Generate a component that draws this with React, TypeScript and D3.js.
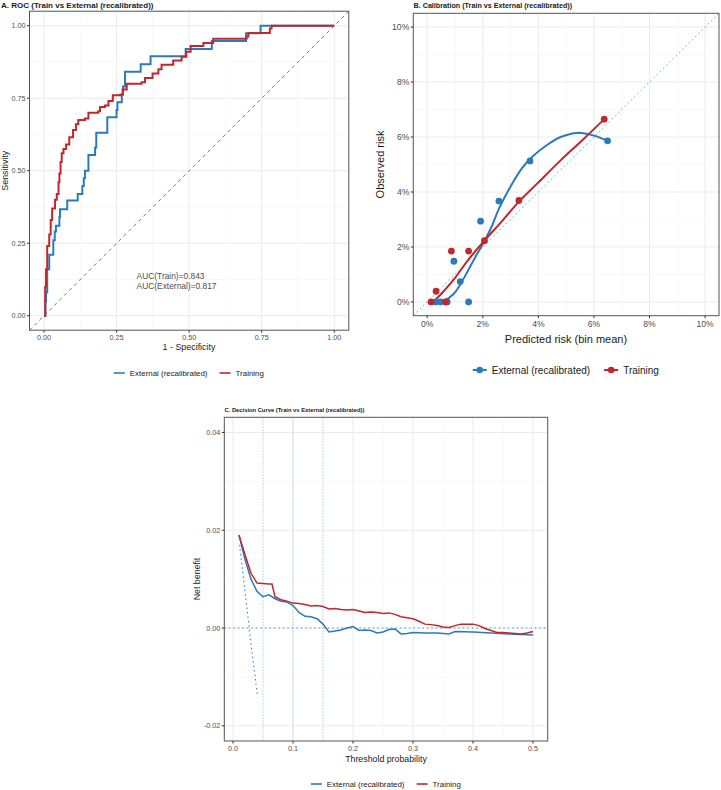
import React from 'react'
import * as d3 from 'd3'

const W = 721
const H = 790
const BLUE = '#2b7bba'
const RED = '#c1272d'
const FONT = '"Liberation Sans", Arial, sans-serif'

// ---- A. ROC ----
const rocTrainFpr = [0, 0.004, 0.007, 0.011, 0.018, 0.023, 0.028, 0.038, 0.044, 0.05, 0.053, 0.057, 0.061, 0.067, 0.076, 0.087, 0.1, 0.11, 0.118, 0.141, 0.153, 0.187, 0.193, 0.21, 0.222, 0.237, 0.262, 0.271, 0.285, 0.336, 0.348, 0.374, 0.394, 0.405, 0.445, 0.474, 0.49, 0.505, 0.549, 0.583, 0.698, 0.704, 0.773, 0.778, 0.784, 1]
const rocTrainTpr = [0, 0.1, 0.16, 0.24, 0.28, 0.33, 0.37, 0.4, 0.42, 0.46, 0.49, 0.53, 0.56, 0.575, 0.59, 0.615, 0.64, 0.66, 0.675, 0.68, 0.7, 0.705, 0.72, 0.725, 0.74, 0.76, 0.762, 0.78, 0.8, 0.805, 0.82, 0.835, 0.85, 0.865, 0.88, 0.893, 0.91, 0.93, 0.94, 0.955, 0.963, 0.975, 0.975, 0.99, 1, 1]
const rocExtFpr = [0, 0.005, 0.007, 0.011, 0.018, 0.032, 0.037, 0.041, 0.053, 0.055, 0.08, 0.116, 0.132, 0.137, 0.141, 0.153, 0.176, 0.18, 0.218, 0.25, 0.253, 0.268, 0.272, 0.279, 0.333, 0.367, 0.488, 0.578, 0.696, 0.746, 1]
const rocExtTpr = [0, 0.05, 0.08, 0.16, 0.21, 0.26, 0.29, 0.31, 0.34, 0.367, 0.397, 0.42, 0.447, 0.474, 0.5, 0.554, 0.58, 0.631, 0.684, 0.709, 0.736, 0.763, 0.79, 0.841, 0.867, 0.895, 0.92, 0.947, 0.974, 1, 1]
const rocTicks = [0, 0.25, 0.5, 0.75, 1]
const aucLabels = ['AUC(Train)=0.843', 'AUC(External)=0.817']

// ---- B. Calibration ----
const calExtPred = [0.003, 0.0048, 0.0072, 0.0096, 0.0119, 0.0149, 0.0192, 0.0258, 0.037, 0.0649]
const calExtObs = [0, 0, 0, 0.0148, 0.0074, 0, 0.0294, 0.0367, 0.0513, 0.0586]
const calTrainPred = [0.0014, 0.0032, 0.0066, 0.0087, 0.0149, 0.0206, 0.033, 0.0637]
const calTrainObs = [0, 0.0039, 0, 0.0185, 0.0185, 0.0223, 0.0369, 0.0665]
const fitExtX = [0.003, 0.006, 0.0096, 0.012, 0.015, 0.018, 0.02, 0.023, 0.026, 0.03, 0.034, 0.038, 0.043, 0.048, 0.054, 0.06, 0.0649]
const fitExtY = [0, 0.0005, 0.003, 0.0065, 0.012, 0.0175, 0.021, 0.027, 0.0343, 0.042, 0.0485, 0.053, 0.057, 0.06, 0.0615, 0.0605, 0.0586]
const fitTrainX = [0.0027, 0.006, 0.0096, 0.0149, 0.0206, 0.027, 0.033, 0.04, 0.048, 0.056, 0.0637]
const fitTrainY = [0.0005, 0.004, 0.0082, 0.0155, 0.0223, 0.0295, 0.0365, 0.0435, 0.0515, 0.059, 0.0665]
const calTicks = [0, 0.02, 0.04, 0.06, 0.08, 0.1]

// ---- C. Decision curve ----
const dcaTrainT = [0.01, 0.02, 0.03, 0.04, 0.05, 0.06, 0.065, 0.07, 0.08, 0.09, 0.1, 0.11, 0.12, 0.13, 0.14, 0.15, 0.16, 0.17, 0.18, 0.19, 0.2, 0.21, 0.22, 0.23, 0.24, 0.25, 0.26, 0.27, 0.28, 0.29, 0.3, 0.31, 0.32, 0.33, 0.34, 0.35, 0.36, 0.37, 0.38, 0.39, 0.4, 0.41, 0.42, 0.43, 0.44, 0.45, 0.46, 0.47, 0.48, 0.49, 0.5]
const dcaTrainNb = [0.019, 0.015, 0.0112, 0.0092, 0.0091, 0.009, 0.009, 0.0064, 0.0058, 0.0055, 0.0051, 0.005, 0.0048, 0.0045, 0.0046, 0.0044, 0.0039, 0.004, 0.0038, 0.0037, 0.0038, 0.0035, 0.0032, 0.0033, 0.0032, 0.003, 0.0031, 0.0028, 0.0023, 0.0021, 0.0019, 0.0014, 0.0008, 0.0007, 0.0005, 0.0002, 0.0001, 0.0005, 0.0008, 0.0008, 0.0008, 0.0005, -0.0001, -0.0005, -0.0009, -0.0009, -0.001, -0.0011, -0.0012, -0.001, -0.0007]
const dcaExtT = [0.01, 0.02, 0.03, 0.04, 0.05, 0.06, 0.07, 0.08, 0.09, 0.1, 0.11, 0.12, 0.13, 0.14, 0.15, 0.16, 0.17, 0.18, 0.19, 0.2, 0.21, 0.22, 0.23, 0.24, 0.25, 0.26, 0.27, 0.28, 0.29, 0.3, 0.32, 0.34, 0.36, 0.37, 0.4, 0.43, 0.46, 0.5]
const dcaExtNb = [0.019, 0.014, 0.01, 0.0075, 0.0064, 0.0068, 0.006, 0.0055, 0.0053, 0.0046, 0.0032, 0.0024, 0.0023, 0.0019, 0.0008, -0.0008, -0.0006, -0.0004, 0, 0.0003, -0.0005, -0.0004, -0.0005, -0.001, -0.0008, -0.0003, -0.0002, -0.0012, -0.0011, -0.0009, -0.001, -0.001, -0.0012, -0.0007, -0.0008, -0.001, -0.0012, -0.0014]
const treatAllT = [0.011, 0.02, 0.03, 0.041]
const treatAllNb = [0.017, 0.0076, -0.0032, -0.0141]
const refThresholds = [0.05, 0.1, 0.15]
const dcaXTicks = [0, 0.1, 0.2, 0.3, 0.4, 0.5]
const dcaYTicks = [-0.02, 0, 0.02, 0.04]

const seriesNames = ['External (recalibrated)', 'Training']

type Scale = d3.ScaleLinear<number, number>
type Fmt = (v: number) => string

// ggplot-style number labels with an ASCII hyphen for negatives
const plain = (spec: string): Fmt => (v) => d3.format(spec)(v).replace('\u2212', '-')

function Grid({ x, y, xMajor, yMajor, xMinor, yMinor }: { x: Scale; y: Scale; xMajor: number[]; yMajor: number[]; xMinor: number[]; yMinor: number[] }) {
  const [x0, x1] = x.range()
  const [y0, y1] = y.range()
  return (
    <g>
      {xMinor.map((v, i) => <line key={'xm' + i} x1={x(v)} x2={x(v)} y1={y0} y2={y1} stroke="#f4f4f4" strokeWidth={0.6} />)}
      {yMinor.map((v, i) => <line key={'ym' + i} y1={y(v)} y2={y(v)} x1={x0} x2={x1} stroke="#f4f4f4" strokeWidth={0.6} />)}
      {xMajor.map((v, i) => <line key={'xM' + i} x1={x(v)} x2={x(v)} y1={y0} y2={y1} stroke="#ebebeb" strokeWidth={1} />)}
      {yMajor.map((v, i) => <line key={'yM' + i} y1={y(v)} y2={y(v)} x1={x0} x2={x1} stroke="#ebebeb" strokeWidth={1} />)}
    </g>
  )
}

function Axes({ x, y, xTicks, yTicks, fx, fy, size }: { x: Scale; y: Scale; xTicks: number[]; yTicks: number[]; fx: Fmt; fy: Fmt; size: number }) {
  const [x0, x1] = x.range()
  const [y0, y1] = y.range()
  return (
    <g fontFamily={FONT} fontSize={size} fill="#4d4d4d">
      <rect x={x0} y={y1} width={x1 - x0} height={y0 - y1} fill="none" stroke="#555" strokeWidth={1} />
      {xTicks.map((v, i) => (
        <g key={'x' + i}>
          <line x1={x(v)} x2={x(v)} y1={y0} y2={y0 + 2.5} stroke="#333" />
          <text x={x(v)} y={y0 + 4 + size * 0.8} textAnchor="middle">{fx(v)}</text>
        </g>
      ))}
      {yTicks.map((v, i) => (
        <g key={'y' + i}>
          <line x1={x0 - 2.5} x2={x0} y1={y(v)} y2={y(v)} stroke="#333" />
          <text x={x0 - 4} y={y(v) + size * 0.35} textAnchor="end">{fy(v)}</text>
        </g>
      ))}
    </g>
  )
}

function LineLegend({ cx, y, size, keyW, gap, point }: { cx: number; y: number; size: number; keyW: number; gap: number; point?: boolean }) {
  const w0 = size * 9.84
  const w1 = size * 3.61
  const total = keyW + 5 + w0 + gap + keyW + 5 + w1
  const s = cx - total / 2
  const items = [
    { color: BLUE, label: seriesNames[0], x: s },
    { color: RED, label: seriesNames[1], x: s + keyW + 5 + w0 + gap },
  ]
  return (
    <g fontFamily={FONT} fontSize={size} fill="#1a1a1a">
      {items.map((it, i) => (
        <g key={i}>
          <line x1={it.x} x2={it.x + keyW} y1={y} y2={y} stroke={it.color} strokeWidth={point ? 2 : 1.6} />
          {point && <circle cx={it.x + keyW / 2} cy={y} r={3.3} fill={it.color} />}
          <text x={it.x + keyW + 5} y={y + size * 0.35}>{it.label}</text>
        </g>
      ))}
    </g>
  )
}

function RocPanel() {
  const x = d3.scaleLinear().domain([-0.05, 1.05]).range([29.5, 348.8])
  const y = d3.scaleLinear().domain([-0.05, 1.05]).range([330.2, 11.2])
  const trainPts = rocTrainFpr.map((f, i) => [x(f), y(rocTrainTpr[i])] as [number, number])
  const extPts = rocExtFpr.map((f, i) => [x(f), y(rocExtTpr[i])] as [number, number])
  const line = d3.line().curve(d3.curveStepAfter)
  const minor = [0.125, 0.375, 0.625, 0.875]
  return (
    <g>
      <clipPath id="clipA"><rect x={29.5} y={11.2} width={319.3} height={319} /></clipPath>
      <Grid x={x} y={y} xMajor={rocTicks} yMajor={rocTicks} xMinor={minor} yMinor={minor} />
      <g clipPath="url(#clipA)">
        <line x1={x(-0.05)} y1={y(-0.05)} x2={x(1.05)} y2={y(1.05)} stroke="#666" strokeWidth={0.9} strokeDasharray="3.5,3.5" />
        <path d={line(extPts) || ''} fill="none" stroke={BLUE} strokeWidth={2} />
        <path d={line(trainPts) || ''} fill="none" stroke={RED} strokeWidth={2} />
      </g>
      {aucLabels.map((t, i) => (
        <text key={i} x={x(0.319)} y={278.5 + i * 10} fontFamily={FONT} fontSize={8.4} fill="#4d4d4d">{t}</text>
      ))}
      <Axes x={x} y={y} xTicks={rocTicks} yTicks={rocTicks} fx={plain('.2f')} fy={plain('.2f')} size={7.2} />
      <text x={1} y={7.5} fontFamily={FONT} fontSize={8} fontWeight="bold" fill="#1a1a1a">A. ROC (Train vs External (recalibrated))</text>
      <text x={189} y={349.5} textAnchor="middle" fontFamily={FONT} fontSize={8.9} fill="#1a1a1a">1 - Specificity</text>
      <text transform={`translate(7.5,${(330.2 + 11.2) / 2}) rotate(-90)`} textAnchor="middle" fontFamily={FONT} fontSize={8.9} fill="#1a1a1a">Sensitivity</text>
      <LineLegend cx={189} y={373} size={7.9} keyW={11} gap={12} />
    </g>
  )
}

function CalPanel() {
  const x = d3.scaleLinear().domain([-0.005, 0.105]).range([413.3, 719])
  const y = d3.scaleLinear().domain([-0.005, 0.105]).range([315.7, 13.3])
  const smooth = d3.line<[number, number]>().x(d => x(d[0])).y(d => y(d[1])).curve(d3.curveCatmullRom)
  const extFit = fitExtX.map((v, i) => [v, fitExtY[i]] as [number, number])
  const trFit = fitTrainX.map((v, i) => [v, fitTrainY[i]] as [number, number])
  const minor = [0.01, 0.03, 0.05, 0.07, 0.09]
  return (
    <g>
      <clipPath id="clipB"><rect x={413.3} y={13.3} width={305.7} height={302.4} /></clipPath>
      <Grid x={x} y={y} xMajor={calTicks} yMajor={calTicks} xMinor={minor} yMinor={minor} />
      <g clipPath="url(#clipB)">
        <line x1={x(-0.005)} y1={y(-0.005)} x2={x(0.105)} y2={y(0.105)} stroke="#7fb2dc" strokeWidth={1} strokeDasharray="2,2.5" />
        <path d={smooth(extFit) || ''} fill="none" stroke={BLUE} strokeWidth={2} />
        <path d={smooth(trFit) || ''} fill="none" stroke={RED} strokeWidth={2} />
        {calExtPred.map((p, i) => <circle key={'e' + i} cx={x(p)} cy={y(calExtObs[i])} r={3.4} fill={BLUE} />)}
        {calTrainPred.map((p, i) => <circle key={'t' + i} cx={x(p)} cy={y(calTrainObs[i])} r={3.4} fill={RED} />)}
      </g>
      <Axes x={x} y={y} xTicks={calTicks} yTicks={calTicks} fx={d3.format('.0%')} fy={d3.format('.0%')} size={8.6} />
      <text x={413.5} y={7.5} fontFamily={FONT} fontSize={7.2} fontWeight="bold" fill="#1a1a1a">B. Calibration (Train vs External (recalibrated))</text>
      <text x={566} y={342.5} textAnchor="middle" fontFamily={FONT} fontSize={11} fill="#1a1a1a">Predicted risk (bin mean)</text>
      <text transform={`translate(384,${(315.7 + 13.3) / 2}) rotate(-90)`} textAnchor="middle" fontFamily={FONT} fontSize={11} fill="#1a1a1a">Observed risk</text>
      <LineLegend cx={566} y={370} size={10} keyW={14} gap={14} point />
    </g>
  )
}

function DcaPanel() {
  const x = d3.scaleLinear().domain([-0.0145, 0.5245]).range([224.3, 547.7])
  const y = d3.scaleLinear().domain([-0.0231, 0.0431]).range([741, 417.3])
  const line = d3.line<[number, number]>().x(d => x(d[0])).y(d => y(d[1]))
  const tr = dcaTrainT.map((t, i) => [t, dcaTrainNb[i]] as [number, number])
  const ex = dcaExtT.map((t, i) => [t, dcaExtNb[i]] as [number, number])
  const all = treatAllT.map((t, i) => [t, treatAllNb[i]] as [number, number])
  const xMinor = [0.05, 0.15, 0.25, 0.35, 0.45]
  const yMinor = [-0.01, 0.01, 0.03]
  return (
    <g>
      <Grid x={x} y={y} xMajor={dcaXTicks} yMajor={dcaYTicks} xMinor={xMinor} yMinor={yMinor} />
      {refThresholds.map((t, i) => (
        <line key={i} x1={x(t)} x2={x(t)} y1={417.3} y2={741} stroke="#b9d3ea" strokeWidth={1} strokeDasharray="1.5,1.5" />
      ))}
      <line x1={224.3} x2={547.7} y1={y(0)} y2={y(0)} stroke="#4a90d0" strokeWidth={1.1} strokeDasharray="1.5,3" />
      <path d={line(all) || ''} fill="none" stroke="#3d85c6" strokeWidth={1.1} strokeDasharray="1.5,3" />
      <path d={line(ex) || ''} fill="none" stroke={BLUE} strokeWidth={1.5} />
      <path d={line(tr) || ''} fill="none" stroke={RED} strokeWidth={1.5} />
      <Axes x={x} y={y} xTicks={dcaXTicks} yTicks={dcaYTicks} fx={plain('.1f')} fy={plain('.2f')} size={7.2} />
      <text x={224.5} y={412} fontFamily={FONT} fontSize={5.8} fontWeight="bold" fill="#1a1a1a">C. Decision Curve (Train vs External (recalibrated))</text>
      <text x={386} y={762} textAnchor="middle" fontFamily={FONT} fontSize={8.8} fill="#1a1a1a">Threshold probability</text>
      <text transform={`translate(200,579) rotate(-90)`} textAnchor="middle" fontFamily={FONT} fontSize={8.8} fill="#1a1a1a">Net benefit</text>
      <LineLegend cx={386} y={784} size={7.9} keyW={11} gap={12} />
    </g>
  )
}

export default function App() {
  return (
    <svg width={W} height={H} style={{ position: 'absolute', left: 0, top: 0 }}>
      <rect width={W} height={H} fill="#fff" />
      <RocPanel />
      <CalPanel />
      <DcaPanel />
    </svg>
  )
}
